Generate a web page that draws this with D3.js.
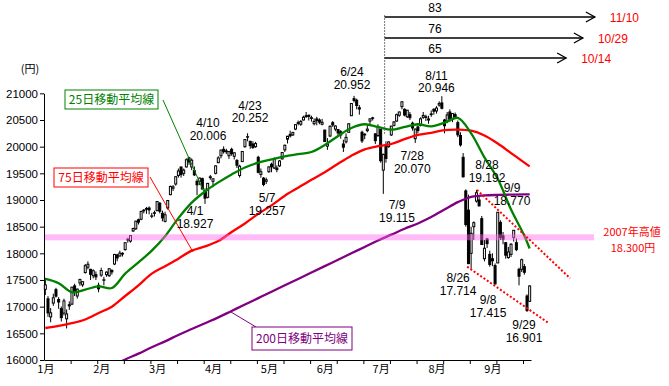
<!DOCTYPE html>
<html><head><meta charset="utf-8">
<script src="https://cdn.jsdelivr.net/npm/d3@7"></script>
<style>body{margin:0;background:#fff}svg{display:block}</style>
</head><body><svg id="c" width="669" height="386"></svg>
<script>
// ---------- DATA ----------
const dates = [
"1/5","1/6","1/7","1/8","1/9","1/13","1/14","1/15","1/16","1/19","1/20","1/21","1/22","1/23","1/26","1/27","1/28","1/29","1/30",
"2/2","2/3","2/4","2/5","2/6","2/9","2/10","2/12","2/13","2/16","2/17","2/18","2/19","2/20","2/23","2/24","2/25","2/26","2/27",
"3/2","3/3","3/4","3/5","3/6","3/9","3/10","3/11","3/12","3/13","3/16","3/17","3/18","3/19","3/20","3/23","3/24","3/25","3/26","3/27","3/30","3/31",
"4/1","4/2","4/3","4/6","4/7","4/8","4/9","4/10","4/13","4/14","4/15","4/16","4/17","4/20","4/21","4/22","4/23","4/24","4/27","4/28","4/30",
"5/1","5/7","5/8","5/11","5/12","5/13","5/14","5/15","5/18","5/19","5/20","5/21","5/22","5/25","5/26","5/27","5/28","5/29",
"6/1","6/2","6/3","6/4","6/5","6/8","6/9","6/10","6/11","6/12","6/15","6/16","6/17","6/18","6/19","6/22","6/23","6/24","6/25","6/26","6/29","6/30",
"7/1","7/2","7/3","7/6","7/7","7/8","7/9","7/10","7/13","7/14","7/15","7/16","7/17","7/21","7/22","7/23","7/24","7/27","7/28","7/29","7/30","7/31",
"8/3","8/4","8/5","8/6","8/7","8/10","8/11","8/12","8/13","8/14","8/17","8/18","8/19","8/20","8/21","8/24","8/25","8/26","8/27","8/28","8/31",
"9/1","9/2","9/3","9/4","9/7","9/8","9/9","9/10","9/11","9/14","9/15","9/16","9/17","9/18","9/24","9/25","9/28","9/29","9/30"];
const open = [
17325,17147,16808,17067,17318,17134,16963,16880,16772,17036,17048,17390,17200,17444,17410,17640,17740,17700,17580,
17600,17400,17590,17500,17600,17580,17680,17800,17970,17950,18000,18070,18250,18230,18420,18460,18630,18640,18810,
18840,18850,18700,18760,18800,18940,18750,18600,18850,19100,19220,19300,19460,19620,19500,19620,19790,19620,19550,19350,19350,19400,
19170,19050,19420,19350,19500,19700,19830,19950,19920,19830,19950,19820,19740,19460,19720,20000,20180,20100,20050,20000,19800,
19480,19410,19350,19530,19670,19600,19600,19640,19770,19940,20140,20230,20220,20330,20450,20420,20500,20580,
20590,20530,20430,20520,20500,20420,20310,20010,20200,20450,20330,20320,20280,20050,20090,20270,20580,20900,20870,20730,20270,20220,
20300,20480,20540,20240,20210,20320,19560,20000,20000,20220,20400,20480,20590,20750,20700,20560,20600,20440,20150,20370,20400,20550,
20560,20500,20600,20700,20670,20780,20820,20500,20470,20650,20520,20600,20450,20210,19800,19170,18810,18000,18500,18980,19000,
18650,17900,18270,17980,17900,17770,17820,18580,18330,18200,17920,17980,18300,18200,17700,17700,17750,17200,17100];
const high = [
17540,17197,16974,17243,17353,17180,17002,17150,16948,17100,17366,17430,17340,17520,17480,17800,17850,17710,17700,
17660,17450,17730,17560,17660,17720,17700,17990,17990,18050,18020,18200,18290,18340,18480,18610,18650,18800,18830,
18870,18880,18760,18800,18980,18960,18800,18780,19000,19270,19280,19440,19590,19620,19590,19780,19810,19780,19630,19390,19420,19420,
19220,19320,19470,19400,19650,19820,19940,20006,19960,19920,19980,19890,19770,19660,19910,20140,20252,20110,20100,20090,19830,
19590,19430,19420,19630,19700,19800,19650,19750,19900,20040,20200,20300,20280,20420,20490,20500,20580,20650,
20600,20580,20530,20560,20530,20520,20320,20160,20400,20480,20400,20330,20310,20130,20250,20440,20810,20952,20900,20780,20300,20250,
20400,20530,20560,20250,20420,20330,19870,20100,20100,20390,20480,20620,20660,20850,20720,20690,20650,20470,20340,20400,20550,20650,
20600,20580,20680,20720,20760,20850,20946,20520,20650,20700,20630,20640,20490,20270,19880,19200,19100,18500,18600,19192,19080,
18700,18250,18290,18050,18000,17810,18770,18620,18400,18210,18120,18190,18430,18280,17730,17900,17800,17230,17400];
const low = [
17219,16808,16708,17016,17173,16960,16721,16835,16592,16940,17030,17200,17150,17390,17370,17620,17700,17500,17530,
17500,17270,17560,17400,17560,17560,17600,17780,17850,17940,17940,18050,18200,18200,18400,18440,18540,18620,18750,
18740,18730,18660,18690,18790,18750,18600,18580,18820,19090,19170,19270,19420,19420,19450,19610,19660,19560,19450,19090,19280,19200,
18927,19030,19380,19240,19480,19690,19780,19870,19860,19770,19830,19760,19600,19420,19720,19980,20100,19960,19960,19980,19500,
19420,19257,19300,19510,19520,19580,19520,19620,19760,19900,20060,20170,20200,20310,20400,20390,20490,20540,
20490,20470,20400,20400,20420,20400,20090,19940,20180,20370,20290,20180,20150,19900,20060,20260,20580,20830,20700,20600,20070,20140,
20270,20420,20490,20050,20180,19700,19115,19700,19980,20200,20380,20470,20560,20700,20570,20540,20500,20300,20070,20250,20380,20520,
20480,20430,20560,20600,20620,20750,20700,20250,20440,20470,20460,20530,20180,20000,19420,18500,17800,17714,18250,18950,18880,
18160,17850,18100,17750,17760,17415,17820,18250,18170,17900,17900,17930,18220,18040,17400,17650,17600,16901,17090];
const close = [
17408,16883,16885,17167,17197,17087,16795,17108,16864,17014,17366,17280,17329,17511,17468,17768,17795,17606,17674,
17558,17335,17678,17504,17648,17711,17652,17979,17913,18004,17987,18199,18264,18332,18466,18603,18585,18785,18797,
18826,18815,18703,18751,18971,18790,18665,18723,18991,19254,19246,19437,19544,19476,19560,19754,19713,19746,19471,19285,19411,19206,
19034,19312,19435,19397,19640,19789,19937,19907,19905,19908,19869,19885,19652,19634,19909,20133,20187,20020,19983,20058,19520,
19531,19291,19379,19620,19624,19764,19570,19732,19890,20026,20196,20202,20264,20413,20437,20472,20551,20563,
20569,20543,20473,20488,20460,20457,20096,20046,20382,20407,20387,20257,20219,19990,20174,20428,20809,20868,20772,20706,20109,20235,
20329,20522,20539,20112,20376,19737,19855,19779,20089,20385,20463,20600,20650,20841,20593,20683,20544,20350,20329,20302,20522,20585,
20548,20520,20614,20664,20724,20808,20720,20392,20595,20519,20620,20554,20222,20033,19435,18540,17806,18376,18574,19136,18890,
18165,18095,18182,17792,17860,17427,18770,18299,18264,17965,18026,18171,18432,18070,17571,17880,17645,16930,17388];

// moving averages (read at every 5th trading day)
const maIdx = [0,5,10,15,20,25,30,35,40,45,50,55,60,65,70,75,80,85,90,95,100,105,110,115,120,125,130,135,140,145,150,155,160,165,170,175,180,182];
const ma25 = [17520,17440,17270,17320,17380,17350,17620,17830,18050,18320,18660,18950,19160,19330,19480,19610,19700,19760,19820,19860,19900,20030,20200,20350,20420,20370,20320,20370,20420,20380,20450,20540,20250,19800,19400,18820,18330,18090];
const ma75 = [16600,16640,16690,16760,16880,17000,17200,17400,17620,17760,17900,18050,18130,18230,18400,18560,18740,18900,19080,19230,19380,19520,19680,19830,19950,20010,20050,20140,20220,20260,20310,20320,20300,20210,20060,19880,19700,19630];
const ma200Idx = [25,30,35,40,45,50,55,60,65,70,75,80,85,90,95,100,105,110,115,120,125,130,135,140,145,150,155,160,165,170,175,180,182];
const ma200 = [15890,16010,16120,16240,16350,16470,16580,16690,16800,16920,17040,17160,17280,17400,17520,17640,17760,17880,18000,18120,18240,18350,18460,18560,18680,18820,18960,19060,19085,19095,19100,19105,19106];

const yTicks = [16000,16500,17000,17500,18000,18500,19000,19500,20000,20500,21000];
const monthLabels = ["1月","2月","3月","4月","5月","6月","7月","8月","9月"];
const monthStart = [0,21,42,63,84,105,126,147,168];
const xTicks = [10,20,30,40,50,60,70,80,90,100,110,120,130,140,150,160,170,180];

const annDates = ["4/1","4/10","4/23","5/7","6/24","7/9","7/28","8/11","8/26","8/28","9/8","9/9","9/29"];
const annValues = [18927,20006,20252,19257,20952,19115,20070,20946,17714,19192,17415,18770,16901];
const annText = ["18.927","20.006","20.252","19.257","20.952","19.115","20.070","20.946","17.714","19.192","17.415","18.770","16.901"];

const highLine = 18300;
const trendUpper = [[162.7,19188],[197.7,17532]];
const trendLower = [[159,17750],[189.4,16700]];
const arrowDays = ["83","76","65"];
const arrowEnds = ["11/10","10/29","10/14"];
const arrowEndIdx = [207,202.5,196.2];

// ---------- LAYOUT ----------
const svg = d3.select("#c");
const L = 44, R = 531, T = 93.33, B = 360;
const x = d3.scaleLinear().domain([0, dates.length]).range([L, R]);
const y = d3.scaleLinear().domain([16000, 21000]).range([B, T]);
const num = '"Liberation Sans", Arial, sans-serif';
const jp = '"Noto Sans CJK JP", "Noto Sans", sans-serif';

svg.append("rect").attr("width",669).attr("height",386).attr("fill","#fff");
svg.append("defs").append("clipPath").attr("id","clip")
  .append("rect").attr("x",L).attr("y",T-10).attr("width",R-L+2).attr("height",B-T+10);

// axes
const ya = svg.append("g").attr("transform",`translate(${L},0)`)
  .call(d3.axisLeft(y).tickValues(yTicks).tickSize(4).tickSizeOuter(0).tickFormat(d=>d));
ya.selectAll("text").attr("font-family",num).attr("font-size","11.5px").attr("fill","#000").attr("x",-6);
ya.selectAll("line,path").attr("stroke","#000");

const xa = svg.append("g").attr("transform",`translate(0,${B})`)
  .call(d3.axisBottom(x).tickValues(xTicks).tickSize(4).tickSizeOuter(0).tickFormat(""));
xa.selectAll("line,path").attr("stroke","#000");
const xm = svg.append("g").attr("transform",`translate(0,${B})`)
  .call(d3.axisBottom(x).tickValues(monthStart.map(d=>d+0.5)).tickSize(0).tickFormat((d,i)=>monthLabels[i]));
xm.select(".domain").remove();
xm.selectAll("text").attr("font-family",jp).attr("font-size","11px").attr("fill","#000").attr("dy","0.9em");

// unit
svg.append("text").attr("x",30).attr("y",73).attr("text-anchor","middle")
  .attr("font-family",jp).attr("font-size","11px").text("(円)");

// candles
const cg = svg.append("g");
const bw = 2;
dates.forEach((d,i)=>{
  const cx = x(i+0.5);
  cg.append("line").attr("x1",cx).attr("x2",cx).attr("y1",y(high[i])).attr("y2",y(low[i]))
    .attr("stroke","#000").attr("stroke-width",1);
  const up = close[i] >= open[i];
  const top = y(Math.max(open[i],close[i])), bot = y(Math.min(open[i],close[i]));
  cg.append("rect").attr("x",cx-bw/2).attr("y",top).attr("width",bw).attr("height",Math.max(0.5,bot-top))
    .attr("fill",up?"#fff":"#000").attr("stroke","#000").attr("stroke-width",1);
});

// moving averages
const line = d3.line().x(d=>x(d[0]+0.5)).y(d=>y(d[1])).curve(d3.curveCatmullRom);
const mg = svg.append("g").attr("clip-path","url(#clip)");
mg.append("path").attr("d",line(ma200Idx.map((d,i)=>[d,ma200[i]]))).attr("fill","none").attr("stroke","#800080").attr("stroke-width",2.3);
mg.append("path").attr("d",line(maIdx.map((d,i)=>[d,ma75[i]]))).attr("fill","none").attr("stroke","#ff0000").attr("stroke-width",2.3);
mg.append("path").attr("d",line(maIdx.map((d,i)=>[d,ma25[i]]))).attr("fill","none").attr("stroke","#008000").attr("stroke-width",2.3);

// 2007 high band
svg.append("rect").attr("x",L+1).attr("y",y(highLine)-3).attr("width",593-L).attr("height",6)
  .attr("fill","#ff66ee").attr("opacity",0.45);
svg.append("text").attr("x",632).attr("y",236).attr("text-anchor","middle").attr("font-family",jp)
  .attr("font-size","11px").attr("fill","#ff0000").text("2007年高値");
svg.append("text").attr("x",633).attr("y",252).attr("text-anchor","middle").attr("font-family",jp)
  .attr("font-size","11px").attr("fill","#ff0000").text("18.300円");

// trend dotted lines
[trendUpper,trendLower].forEach(t=>{
  svg.append("line").attr("x1",x(t[0][0])).attr("y1",y(t[0][1])).attr("x2",x(t[1][0])).attr("y2",y(t[1][1]))
    .attr("stroke","#ff0000").attr("stroke-width",2).attr("stroke-dasharray","2,2");
});

// legend boxes + leader lines
function box(x0,y0,w,h,col,label){
  svg.append("rect").attr("x",x0).attr("y",y0).attr("width",w).attr("height",h)
    .attr("fill","#fff").attr("stroke",col).attr("stroke-width",1);
  svg.append("text").attr("x",x0+w/2).attr("y",y0+h/2+4).attr("text-anchor","middle")
    .attr("font-family",jp).attr("font-size","12px").attr("fill",col).text(label);
}
svg.append("line").attr("x1",163).attr("y1",100).attr("x2",204).attr("y2",192).attr("stroke","#008000").attr("stroke-width",1);
svg.append("line").attr("x1",150).attr("y1",177).attr("x2",193).attr("y2",252).attr("stroke","#ff0000").attr("stroke-width",1);
svg.append("line").attr("x1",231).attr("y1",312).attr("x2",256).attr("y2",327).attr("stroke","#800080").attr("stroke-width",1);
box(65,90,93,19,"#008000","25日移動平均線");
box(54,168,94,19,"#ff0000","75日移動平均線");
box(252,327,100,23,"#800080","200日移動平均線");

// annotations
const annOff = [[-10,7],[-15.6,-23.4],[2.4,-28],[3.5,11.7],[-2,-24],[13.7,11],[-3,13],[-5.4,-21],[-13,9.4],[10.6,-24.8],[-7,15.5],[14.3,-24.3],[-3,13]];
annDates.forEach((d,k)=>{
  const i = dates.indexOf(d);
  const ax = x(i+0.5) + annOff[k][0], ay = y(annValues[k]) + annOff[k][1];
  svg.append("text").attr("x",ax).attr("y",ay+4.3).attr("text-anchor","middle").attr("font-family",num)
    .attr("font-size","12px").attr("fill","#000").text(d);
  svg.append("text").attr("x",ax).attr("y",ay+12.5+4.3).attr("text-anchor","middle").attr("font-family",num)
    .attr("font-size","12px").attr("fill","#000").text(annText[k]);
});

// vertical dashed marker at 7/9 and arrows
const vx = x(dates.indexOf("7/9")+1);
svg.append("line").attr("x1",vx).attr("x2",vx).attr("y1",15).attr("y2",135)
  .attr("stroke","#777").attr("stroke-width",1).attr("stroke-dasharray","2,1");
const arrowY = [17,38,58];
arrowDays.forEach((lab,k)=>{
  const ex = x(arrowEndIdx[k]), ay = arrowY[k];
  svg.append("line").attr("x1",vx).attr("x2",ex).attr("y1",ay).attr("y2",ay).attr("stroke","#000").attr("stroke-width",1.5);
  svg.append("path").attr("d",`M${ex-9},${ay-5}L${ex},${ay}L${ex-9},${ay+5}`).attr("fill","none").attr("stroke","#000").attr("stroke-width",1.3);
  svg.append("text").attr("x",435).attr("y",ay-5).attr("text-anchor","middle").attr("font-family",num)
    .attr("font-size","12px").text(lab);
  svg.append("text").attr("x",ex+15).attr("y",ay+4.5).attr("font-family",num)
    .attr("font-size","12px").attr("fill","#ff0000").text(arrowEnds[k]);
});
</script></body></html>
